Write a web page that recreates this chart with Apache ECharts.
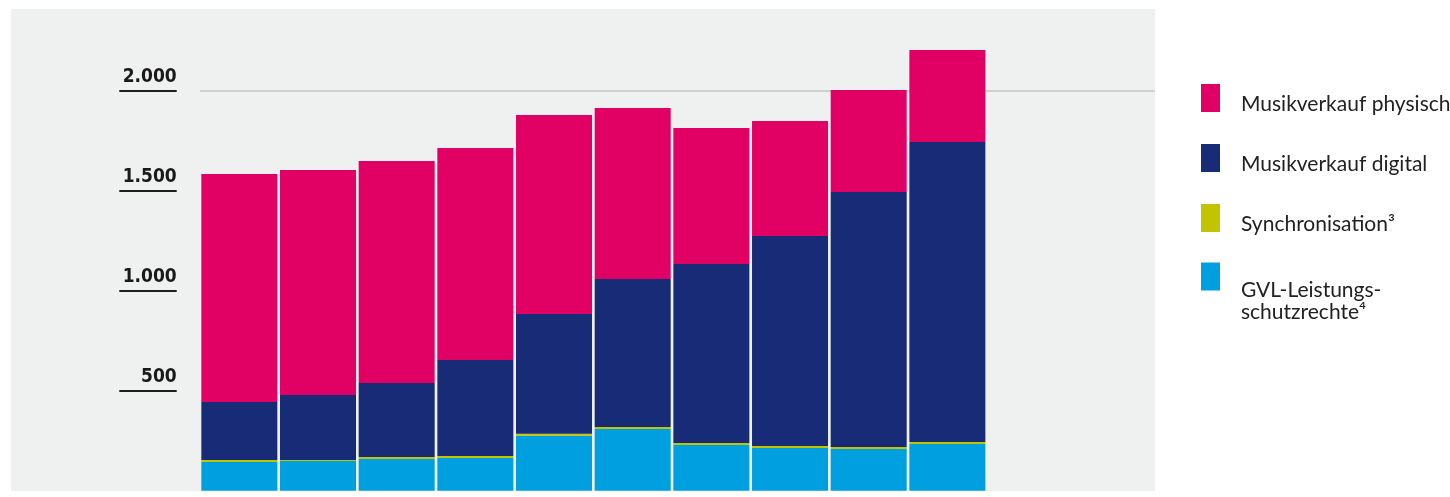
<!DOCTYPE html>
<html>
<head>
<meta charset="utf-8">
<script src="https://cdn.jsdelivr.net/npm/echarts@6/dist/echarts.min.js"></script>
<style>
  html, body { margin: 0; padding: 0; background: #ffffff; }
  #chart { width: 1450px; height: 497px; }
</style>
</head>
<body>
<div id="chart"></div>
<script>
// ---- data ----
const categories = ['2012', '2013', '2014', '2015', '2016', '2017', '2018', '2019', '2020', '2021'];
const seriesNames = ['Musikverkauf physisch', 'Musikverkauf digital', 'Synchronisation³', 'GVL-Leistungsschutzrechte⁴'];
const legendLines = [['Musikverkauf physisch'], ['Musikverkauf digital'], ['Synchronisation³'], ['GVL-Leistungs-', 'schutzrechte⁴']];
const physisch = [1140, 1125, 1110, 1060, 995, 855, 680, 575, 510, 460];
const digital  = [290, 325, 370, 480, 598, 740, 895, 1050, 1275, 1500];
const sync     = [10, 5, 10, 10, 10, 10, 10, 10, 10, 10];
const gvl      = [143, 148, 158, 163, 275, 308, 228, 213, 208, 233];
const yTickValues = [500, 1000, 1500, 2000];
const yMax = 2400;
const gridLineValue = 2000;

const colors = {
  physisch: '#e10064',
  digital: '#182b76',
  sync: '#c3c400',
  gvl: '#009fe0'
};

function fmtThousands(v) {
  return String(v).replace(/\B(?=(\d{3})+(?!\d))/g, '.');
}

const chart = echarts.init(document.getElementById('chart'), null, { renderer: 'canvas' });

const legendFont = 'Lato, "Open Sans", sans-serif';
const legendRich = {
  one: { fontFamily: legendFont, fontSize: 21, color: '#222222', padding: [13, 0, 0, 16], lineHeight: 15 },
  sp: { fontFamily: legendFont, fontSize: 1, lineHeight: 50 },
  next: { fontFamily: legendFont, fontSize: 21, color: '#222222', padding: [0, 0, 0, 16], lineHeight: 22 }
};
function legendFormatter(name) {
  const lines = legendLines[seriesNames.indexOf(name)];
  if (lines.length === 1) return '{one|' + lines[0] + '}';
  return '{sp| }\n' + lines.map(function (l) { return '{next|' + l + '}'; }).join('\n');
}
function makeLegend(top, names) {
  return {
    orient: 'vertical', left: 1201, top: top, padding: 0,
    itemWidth: 19, itemHeight: 28, itemGap: 26, icon: 'rect',
    selectedMode: false,
    textStyle: { fontFamily: legendFont, fontSize: 21, color: '#222222', rich: legendRich },
    formatter: legendFormatter,
    data: names
  };
}

const option = {
  animation: false,
  backgroundColor: '#ffffff',
  grid: [
    { left: 11, top: 9, right: 295, bottom: 6, show: true, backgroundColor: '#eff0f0', borderWidth: 0 },
    { left: 200, top: 10.7, width: 786.7, bottom: 6.3 },
    { left: 200, top: 10.7, right: 295, bottom: 6.3 }
  ],
  xAxis: [
    { type: 'value', gridIndex: 0, show: false },
    { type: 'category', gridIndex: 1, data: categories, show: false },
    { type: 'value', gridIndex: 2, show: false }
  ],
  yAxis: [
    { type: 'value', gridIndex: 0, show: false },
    { type: 'value', gridIndex: 1, min: 0, max: yMax, show: false },
    {
      type: 'value', gridIndex: 2, min: 0, max: yMax, interval: gridLineValue,
      axisLine: { show: false }, axisTick: { show: false }, axisLabel: { show: false },
      splitLine: { show: true, showMinLine: false, showMaxLine: false, lineStyle: { color: '#c4c4c4', width: 1.5 } }
    },
    {
      type: 'value', gridIndex: 2, min: 0, max: yMax, interval: 500, position: 'left', offset: 23.3,
      axisLine: { show: false },
      splitLine: { show: false },
      axisTick: { show: true, inside: false, length: 57.4, customValues: yTickValues, lineStyle: { color: '#1e1e1e', width: 2 } },
      axisLabel: {
        show: true, customValues: yTickValues, margin: 0, verticalAlign: 'bottom', align: 'right',
        padding: [0, 0, 4, 0], lineHeight: 20,
        fontFamily: '"DejaVu Sans Condensed", "DejaVu Sans", sans-serif',
        fontWeight: 'bold', fontSize: 19, color: '#1a1a1a',
        formatter: function (v) { return yTickValues.indexOf(v) >= 0 ? fmtThousands(v) : ''; }
      }
    }
  ],
  legend: [
    makeLegend(81, seriesNames.slice(0, 3)),
    makeLegend(254, seriesNames.slice(3))
  ],
  series: [
    { name: seriesNames[3], type: 'bar', stack: 'total', xAxisIndex: 1, yAxisIndex: 1, barWidth: 76, data: gvl, itemStyle: { color: colors.gvl } },
    { name: seriesNames[2], type: 'bar', stack: 'total', xAxisIndex: 1, yAxisIndex: 1, barWidth: 76, data: sync, itemStyle: { color: colors.sync } },
    { name: seriesNames[1], type: 'bar', stack: 'total', xAxisIndex: 1, yAxisIndex: 1, barWidth: 76, data: digital, itemStyle: { color: colors.digital } },
    { name: seriesNames[0], type: 'bar', stack: 'total', xAxisIndex: 1, yAxisIndex: 1, barWidth: 76, data: physisch, itemStyle: { color: colors.physisch } }
  ]
};

chart.setOption(option);
</script>
</body>
</html>
